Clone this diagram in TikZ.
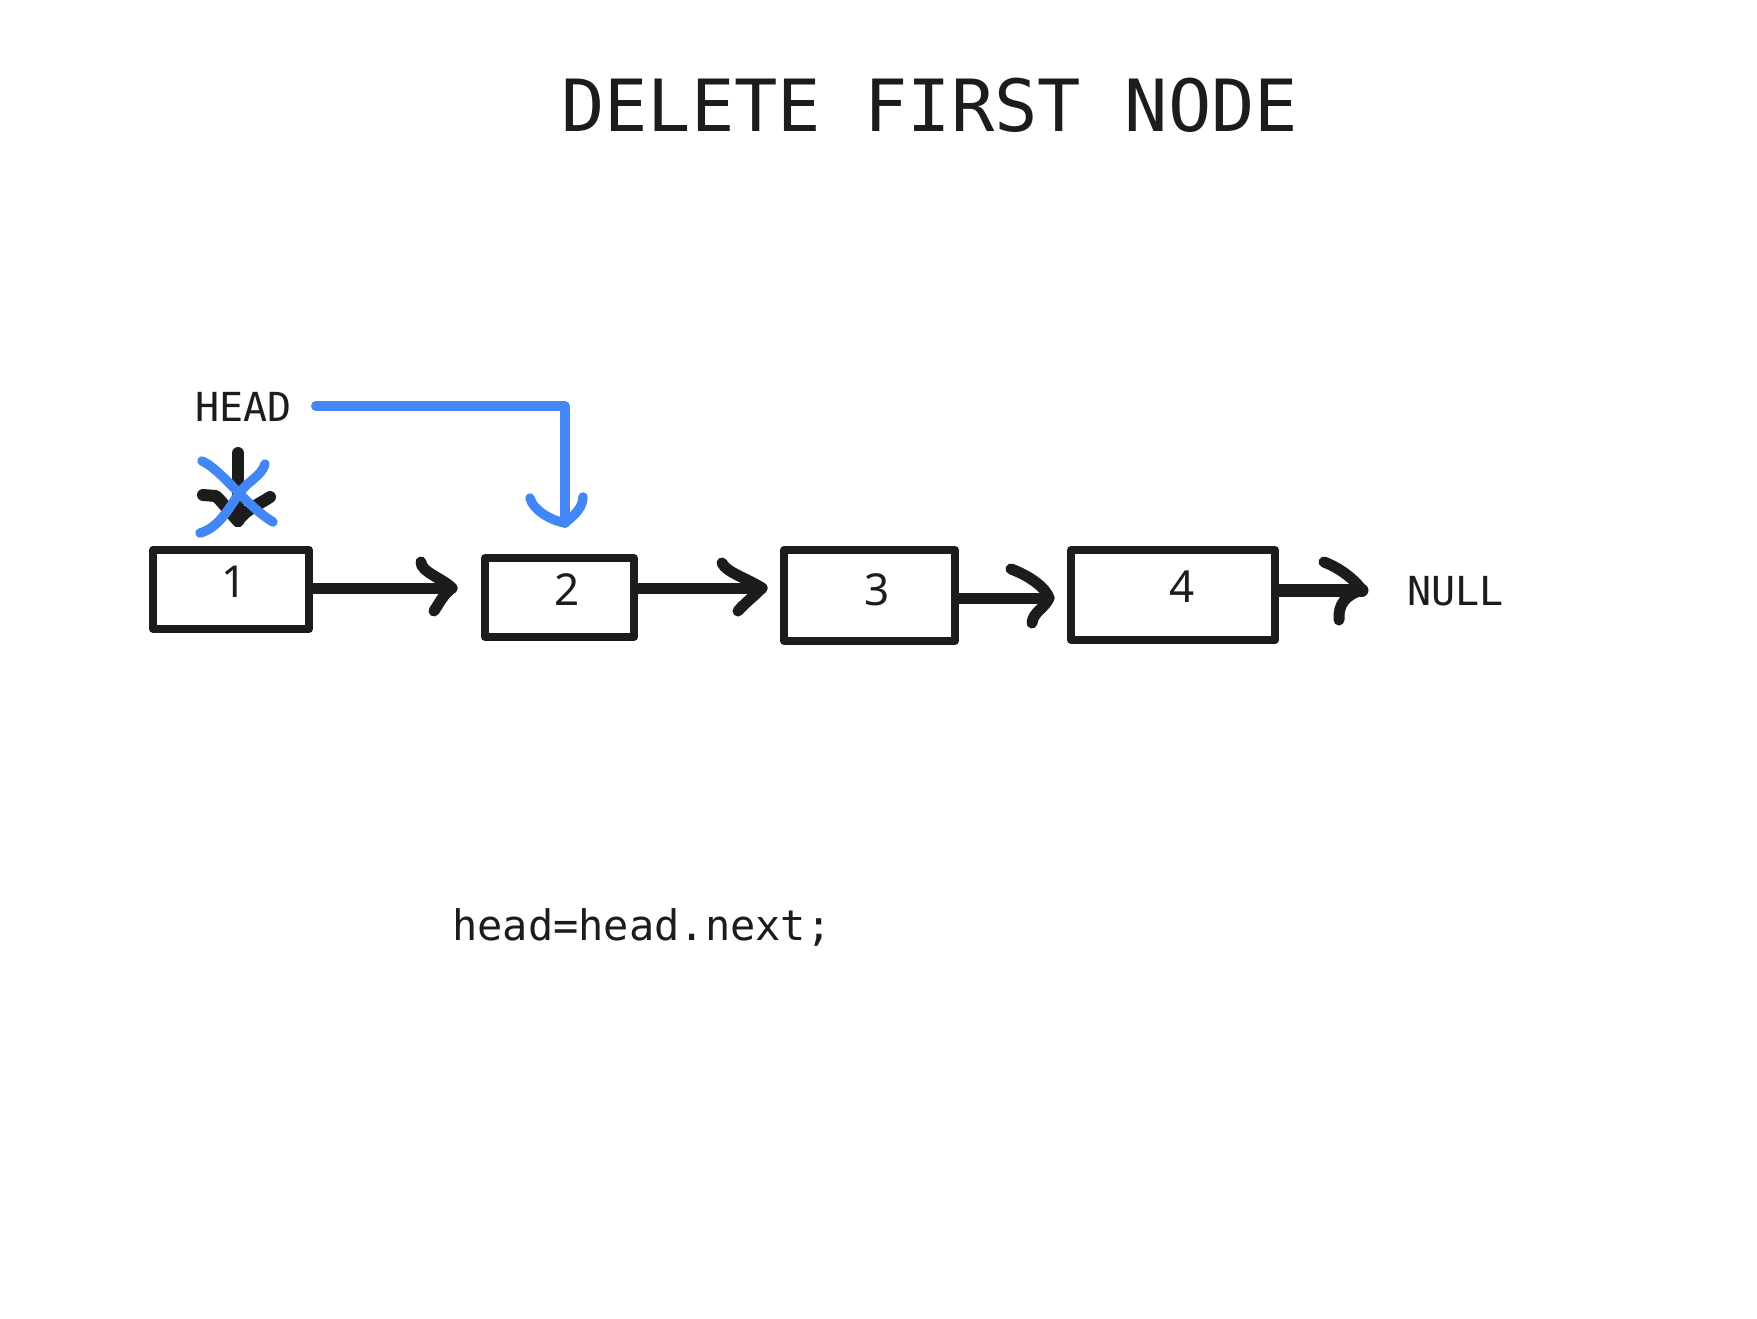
\documentclass[tikz,border=0pt]{standalone}
\usepackage{fontspec}
\setmonofont{DejaVu Sans Mono}
\newfontfamily\digitfont{Noto Sans}
\definecolor{ink}{HTML}{1C1C1C}
\definecolor{gblue}{HTML}{4287F5}
\tikzset{
  cell/.style={draw=ink, line width=7.5pt, line join=round, inner sep=0pt, fill=white},
  digit/.style={inner sep=0pt, anchor=base, text=ink, font=\digitfont\fontsize{44}{50}\selectfont},
  monotext/.style={inner sep=0pt, anchor=base west, text=ink, font=\ttfamily\fontsize{40}{48}\selectfont},
  link/.style={draw=ink, line width=11pt, line cap=round, line join=round},
  bluelink/.style={draw=gblue, line width=9.5pt, line cap=round, line join=round},
}
\begin{document}
\begin{tikzpicture}[x=1pt,y=-1pt]
\useasboundingbox[fill=white] (0,0) rectangle (1757,1318);

% title
\node[inner sep=0pt, anchor=base west, text=ink, font=\ttfamily\fontsize{72}{80}\selectfont] (title) at (561,131) {DELETE FIRST NODE};

% boxes
\node[cell, minimum width=156pt, minimum height=79pt] (b1) at (231,589.5) {};
\node[cell, minimum width=149pt, minimum height=79pt] (b2) at (559.5,597.5) {};
\node[cell, minimum width=171pt, minimum height=91pt] (b3) at (869.5,595.5) {};
\node[cell, minimum width=204pt, minimum height=90pt] (b4) at (1173,595) {};

\node[digit] (d1) at (234,597) {1};
\node[digit] (d2) at (567,605) {2};
\node[digit] (d3) at (877,605) {3};
\node[digit] (d4) at (1182,602) {4};

% labels
\node[monotext] (head) at (195,421) {HEAD};
\node[monotext] (null) at (1407,605) {NULL};
\node[inner sep=0pt, anchor=base west, text=ink, font=\ttfamily\fontsize{42}{50}\selectfont] (code) at (452,940) {head=head.next;};

% arrow tips
\coordinate (t1) at (452,588);
\coordinate (t2) at (762,588);
\coordinate (t3) at (1049,598);
\coordinate (t4) at (1362,590);

% links
\draw[link] (t1 -| b1.east) -- (t1);
\draw[link] (421,562) .. controls (421,572) and (442,578) .. (t1) .. controls (443,595) and (440,602) .. (434,611);
\draw[link] (t2 -| b2.east) -- (t2);
\draw[link] (722,563) .. controls (726,572) and (746,578) .. (t2) .. controls (752,598) and (745,603) .. (738,611);
\draw[link] (t3 -| b3.east) -- (t3);
\draw[link] (1011,569) .. controls (1030,576) and (1046,588) .. (t3) .. controls (1045,608) and (1033,612) .. (1032,623);
\draw[link, line width=13pt] (t4 -| b4.east) -- (t4);
\draw[link] (1324,562) .. controls (1340,568) and (1355,580) .. (t4) .. controls (1345,595) and (1338,605) .. (1339,620);

% old head pointer (crossed out)
\coordinate (oa) at (238,453);
\coordinate (ob) at (238,521);
\draw[link, line width=12pt] (oa) -- (ob);
\draw[link, line width=12pt] (203,495) -- (216,496) .. controls (225,505) and (232,515) .. (ob);
\draw[link, line width=12pt] (270,497) .. controls (258,505) and (245,510) .. (ob);

% blue cross
\draw[bluelink] (202,461) .. controls (222,470) and (245,505) .. (273,522);
\draw[bluelink] (265,464) .. controls (262,476) and (246,482) .. (238,495) .. controls (228,510) and (218,528) .. (200,533);

% new head pointer
\coordinate (hc) at (565,406);
\coordinate (ht) at (565,523);
\draw[bluelink] ([xshift=24pt]hc -| head.east) -- (hc) -- (ht);
\draw[bluelink] (530,498) .. controls (533,510) and (550,520) .. (ht) .. controls (570,518) and (583,510) .. (583,497);
\end{tikzpicture}
\end{document}
